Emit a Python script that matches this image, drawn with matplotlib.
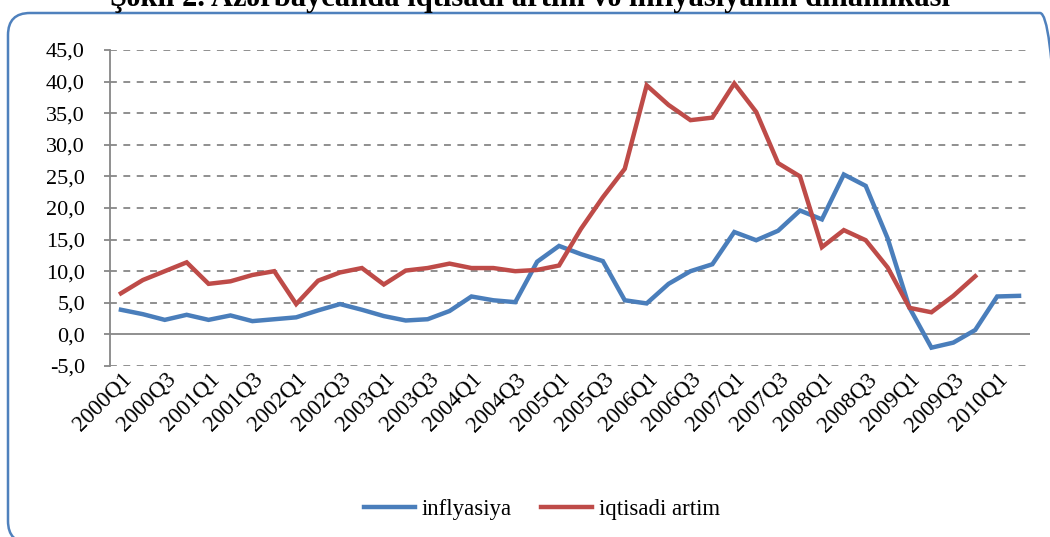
import matplotlib
matplotlib.use('Agg')
import matplotlib.pyplot as plt
from matplotlib.patches import FancyBboxPatch
import numpy as np

plt.rcParams['font.family'] = ['Liberation Serif', 'DejaVu Serif']

# quarterly series, 2000Q1 .. 2010Q2
quarters = [f"{y}Q{q}" for y in range(2000, 2011) for q in range(1, 5)][:42]
inflyasiya = [3.9, 3.2, 2.3, 3.1, 2.3, 3.0, 2.1, 2.4, 2.7, 3.8, 4.8, 3.9,
              2.9, 2.2, 2.4, 3.7, 6.0, 5.4, 5.1, 11.5, 14.0, 12.7, 11.6, 5.4,
              4.9, 8.0, 10.0, 11.1, 16.2, 14.9, 16.4, 19.6, 18.2, 25.3, 23.5, 15.2,
              4.2, -2.1, -1.3, 0.7, 6.0, 6.1]
iqtisadi_artim = [6.5, 8.6, 10.0, 11.4, 8.0, 8.4, 9.4, 10.0, 4.8, 8.5, 9.8, 10.5,
                  7.9, 10.1, 10.5, 11.2, 10.5, 10.5, 10.0, 10.2, 10.9, 16.7, 21.7, 26.2,
                  39.4, 36.3, 33.9, 34.3, 39.7, 35.2, 27.1, 25.0, 13.8, 16.5, 14.9, 10.6,
                  4.2, 3.5, 6.1, 9.2]

W, H = 1050, 537
fig = plt.figure(figsize=(W / 100, H / 100), dpi=100)

# background layer in pixel units for the rounded chart border
bg = fig.add_axes([0, 0, 1, 1], zorder=-1)
bg.set_xlim(0, W)
bg.set_ylim(0, H)
bg.axis('off')
bg.add_patch(FancyBboxPatch((8, -6), 1054, H - 13 + 6, boxstyle='round,pad=0,rounding_size=22',
                            fill=False, edgecolor='#4F81BD', lw=1.8))

ax = fig.add_axes([110 / W, 1 - 366 / H, 920 / W, 316 / H])
ax.patch.set_alpha(0)

x = np.arange(len(quarters))
ax.plot(x, inflyasiya, color='#4A7EBB', lw=3.2, solid_joinstyle='miter', label='inflyasiya')
ax.plot(x[:len(iqtisadi_artim)], iqtisadi_artim, color='#BE4B48', lw=3.2,
        solid_joinstyle='miter', label='iqtisadi artim')

ax.set_xlim(-0.5, len(quarters) - 0.5)
ax.set_ylim(-5, 45)
yt = np.arange(-5, 46, 5)
ax.set_yticks(yt)
ax.set_yticklabels([f"{v:.1f}".replace('.', ',') for v in yt], fontsize=16)
for v in yt:
    if v == 0:
        ax.axhline(0, color='#878787', lw=1.3, zorder=1)
    else:
        ax.axhline(v, color='#878787', lw=1.3, ls=(0, (3.8, 3.6)), zorder=1)

ax.set_xticks(x[::2])
ax.set_xticklabels(quarters[::2], rotation=45, ha='right', va='top',
                   rotation_mode='anchor', fontsize=16.5)
ax.tick_params(axis='y', length=4, width=1.3, color='#878787', pad=14)
ax.tick_params(axis='x', length=0, pad=2)
for s in ['top', 'right', 'bottom']:
    ax.spines[s].set_visible(False)
ax.spines['left'].set_color('#878787')
ax.spines['left'].set_linewidth(1.3)

fig.legend(loc='center', bbox_to_anchor=(542 / W, 1 - 509 / H), ncol=2,
           frameon=False, fontsize=16.5, handlelength=2.2, columnspacing=1.3,
           handletextpad=0.3)

fig.text(530 / W, 1 - 6 / H, "Şəkil 2. Azərbaycanda iqtisadi artım və inflyasiyanın dinamikası",
         ha='center', va='baseline', fontsize=22, fontweight='bold')

fig.savefig('out.png', dpi=100)
